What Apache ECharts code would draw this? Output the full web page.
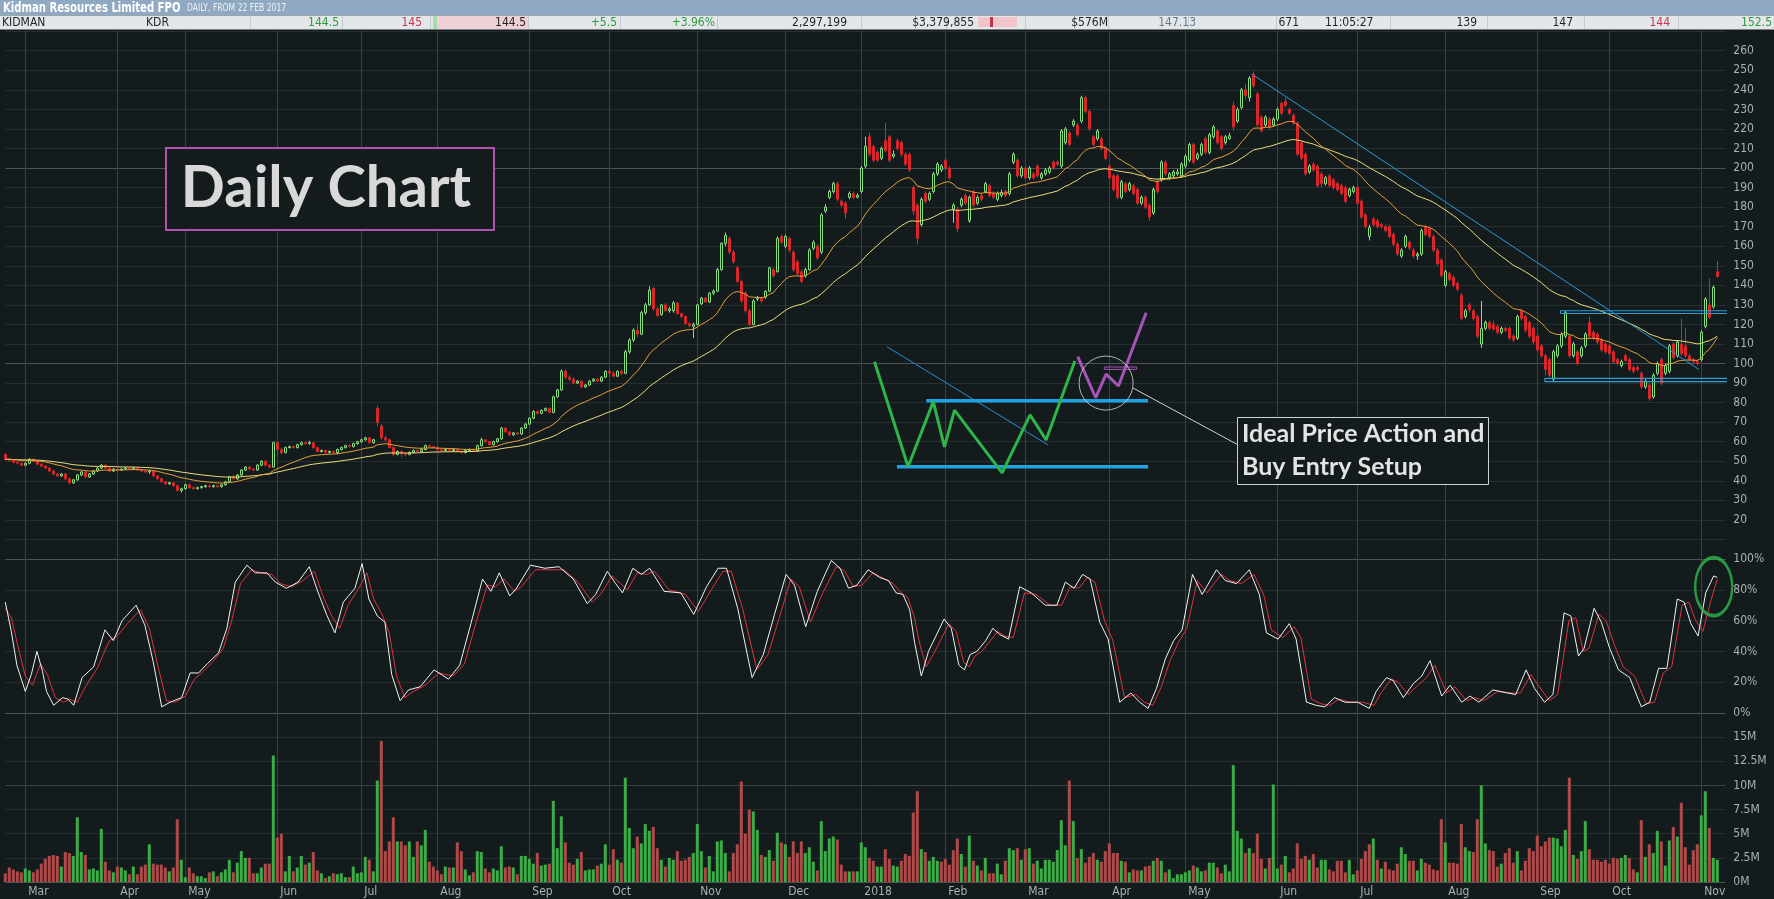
<!DOCTYPE html>
<html><head><meta charset="utf-8">
<script src="https://cdn.jsdelivr.net/npm/echarts/dist/echarts.min.js"></script>
<style>html,body{margin:0;padding:0;background:#131b1d;overflow:hidden}#c{width:1774px;height:899px}</style>
</head><body><div id="c"></div>
<script>
// ---------- DATA ----------
const monthLabels = ['Mar','Apr','May','Jun','Jul','Aug','Sep','Oct','Nov','Dec','2018','Feb','Mar','Apr','May','Jun','Jul','Aug','Sep','Oct','Nov'];
const monthStarts = [5,28,45,68,89,108,131,151,173,195,214,235,255,276,295,318,338,360,383,401,424];
const totalSlots = 431;
// candles: [open, close, low, high]
const candles = [
[53.5,51,50.5,54],[51,50.5,50,51.5],[50.5,49.5,49,51],[49.5,49,48.5,50],[49,48,47.5,49.5],
[48,49,47.5,49.5],[49,51,48.5,51.5],[51,50,49.5,51.5],[50,48.5,48,50.5],[48.5,47.5,47,49],[47.5,46.5,46,48],[46.5,45,44.5,47],[45,43.5,43,45.5],[43.5,42.5,42,44],[42.5,43.5,42,44],[43.5,41,40.5,44],[41,39,38.5,41.5],[39,40.5,38.5,41],[40.5,43,40,43.5],[43,44.5,42.5,45],[44.5,42,41.5,45],[42,43.5,41.5,44],[43.5,45,43,45.5],[45,46.5,44.5,47],[46.5,48,46,48.5],[48,46.5,46,48.5],[46.5,45,44.5,47],[45,46,44.5,46.5],
[46,45.5,45,46.5],[45.5,46,45,46.5],[46,46.5,45.5,47],[46.5,46,45.5,47],[46,46.5,45.5,47],[46.5,45.5,45,47],[45.5,45,44.5,46],[45,44.5,44,45.5],[44.5,45,43.5,45.5],[45,42.5,42,45],[42.5,41,40.5,43],[41,39.5,39,41.5],[39.5,38.5,38,40],[38.5,39,38,39.5],[39,37.5,37,39.5],[37.5,35,34.5,38],[35,36,34,36.5],
[36,38,35.5,38.5],[38,36.5,36,38.5],[36.5,36,35.5,37],[36,36.5,35.5,37],[36.5,37,36,37.5],[37,37.5,36.5,38],[37.5,37,36.5,38],[37,37.5,36.5,38],[37.5,37,36.5,38],[37,38,36.5,38.5],[38,39.5,37.5,40],[39.5,42,39,42.5],[42,41,40.5,43],[41,43,40.5,43.5],[43,45.5,42.5,46],[45.5,47,45,47.5],[47,46,45.5,47.5],[46,45.5,45,46.5],[45.5,48,45,48.5],[48,50,47.5,50.5],[50,48,47.5,50.5],[48,47,46.5,48.5],[47,59.5,47,60],
[59.5,56,53,60],[56,54.5,53.5,57],[54.5,57,54,57.5],[57,57.5,56.5,58],[57.5,57,56.5,58],[57,58.5,56.5,59],[58.5,59.5,58,60],[59.5,59,58.5,60],[59,59.5,58.5,60.5],[59.5,57,56.5,60],[57,55,54.5,57.5],[55,55.5,54.5,56],[55.5,54.5,54,56],[54.5,55,54,55.5],[55,54.5,54,55.5],[54.5,56,53.5,56.5],[56,57,55.5,57.5],[57,58,56.5,58.5],[58,57.5,57,58.5],[57.5,59,57,59.5],[59,60,58.5,60.5],
[60,61,59.5,61.5],[61,62,60.5,62.5],[62,59.5,59,62.5],[59.5,61,59,61.5],[77,70,68,78.5],[68,62,61,69],[62,61,60,63],[61,57,56.5,61.5],[57,53.5,52.5,57.5],[53.5,55,53,55.5],[55,54,52,55.5],[54,53.5,52.5,54.5],[53.5,54.5,53,55],[54.5,55.5,54,56],[55.5,55,54.5,56],[55,56,54.5,56.5],[56,58,55.5,58.5],[58,57.5,57,58.5],[57.5,57,56.5,58],
[57,56,55.5,57.5],[56,55.5,55,56.5],[55.5,56,55,56.5],[56,55.5,55,56.5],[55.5,56,55,56.5],[56,55,54.5,56.5],[55,54.5,54,55.5],[54.5,55.5,54,56],[55.5,56,55,56.5],[56,55.5,55,56.5],[55.5,58,55,58.5],[58,61,57.5,62],[61,60,59.5,61.5],[60,58.5,58,60.5],[58.5,60,58,60.5],[60,61.5,59.5,62],[61.5,67,61,67.5],[67,65,64.5,67.5],[65,63.5,63,65.5],[63.5,64.5,63,65],[64.5,64,63.5,65],[64,67,63.5,67.5],[67,69,66.5,69.5],
[69,72,68.5,72.5],[72,75.5,71.5,76],[75.5,74.5,74,76],[74.5,76,74,76.5],[76,77,75.5,77.5],[77,75,74.5,77.5],[75,83,74.5,83.5],[83,86.5,82.5,87],[86.5,96,86,97],[96,93,92,97],[93,92,91,94],[92,90,89.5,93],[90,91,89.5,91.5],[91,88,87.5,91.5],[88,89,87.5,89.5],[89,91,88.5,91.5],[91,92,90.5,92.5],[92,91,90.5,92.5],[91,93,90.5,93.5],[93,96,92.5,96.5],
[96,95,93,97],[95,93.5,93,96],[93.5,96,93,96.5],[96,95,94,97],[95,106,94.5,107],[106,112,105,113],[112,117,111,118],[117,115,113.5,120],[115,126,114.5,127],[126,130,125,131],[130,137.5,129.5,139.5],[138.5,128,127,139],[128,124.5,124,129],[125,130,124.5,130.5],[130,127,126.5,131],[127,128,126,129],[127,131,126,132],[131,125.5,125,131.5],[125.5,124,123,126],[124,120.5,120,124.5],[120.5,119.5,118.5,121],[119,120,113,121],
[120,130,119.5,130.5],[130.5,133.5,130,134],[133.5,131.5,131,134],[131.5,136,131,136.5],[136,137,135,138],[137,148,136.5,149],[148,161.5,147.5,162],[161.5,165.5,160,167],[164,157,156,165],[157,152,151,158],[149,142,141,150],[142,132,131,143],[136,127,126,137],[127,120,119,128],[120,132,119.5,133],[133,133.5,132,134.5],[133.5,132,131,134],[134,137,133,137.5],[137,149,136.5,149.5],[148,145,144,149],[147,164,146.5,165],[165,162,161,166],
[160,165,159,166],[164,158,157,165],[157,148,147,158],[152,146,145,153],[147,142,141,148],[145,148,144,149],[148,158,147.5,159],[159,162,158,163],[160,154,153,161],[157,176,156,177],[178,180,177,181.5],[185,188,184,189],[188,192,187,193],[192,184,183,193],[183,181,180,184],[182,177,174,183],[185,187,184,188],[187,185,184,188],[185,186,184.5,187],
[188,200,187,201],[201,211,200,216],[216,207,206,218],[211,204,203,212],[208,204,203,209],[205,210,204,211],[214,209,208,223],[216,204,203,217],[206,207,205,209],[214,210,209,215],[213,207,206,214],[207,202,201,208],[207,199,198,208],[190,178,176,191],[181,164,161,182],[171,184,170,185],[187,183,182,188],[184,187,183,188],[188,197,187,198],[197,202,196,203],[199,201,198,202],
[204,200,199,205],[200,195,194,201],[179,181,172,182],[179,169,167,180],[181,184,180,185],[186,182,181,187],[173,185,172,186],[188,181,180,189],[182,185,181,186],[186,184,183,187],[188,192,187,193],[191,186,185,192],[187,185,184,188],[184,187,183,188],[186,187.5,185,189],[188,186,185,189],[187,197,186,198],[203,207,202,208],[204,196,195,205],[196,200,195,201],
[200,195,194,201],[195,200,194,201],[197,195,194,198],[201,196,195,202],[195,197,194,198],[197,199,196,200],[198,200,197,201],[203,200,199,204],[203,202,201,204],[201,219,200,220],[213,220,212,221],[218,212,211,219],[222,224,221,225],[222,217,216,223],[224,236,223,237],[236,229,228,237],[229,220,219,230],[216,212,211,217],[215,219,214,220],[215,210,209,216],[210,205,204,211],
[201,195,194,202],[196,189,188,197],[196,185,184,197],[185,193,184,194],[192,188,187,193],[189,192,188,193],[191,187,186,192],[189,182,181,190],[182,185,181,186],[185,180,179,186],[181,175,173,182],[177,189,176,190],[193,188,187,195],[194,203,193,204],[203,197,196,204],[195,197,194,198],[196,198,195,199],[197,198,196,199.5],[196,202,195,203],
[201,206,200,207],[204,212,203,213],[212,203,202,213],[205,207,204,208],[207,212,206,213],[215,208,207,216],[208,217,207,218],[216,221,215,222],[219,213,212,220],[216,210,209,217],[213,216,212,217],[215,216.5,214.5,218],[232,221,219,234],[224,230,223,231],[231,240,230,241],[240,237,235,243],[236,246,234,247],[248,242,241,249.5],[238,222,221,239],[226,219,218,227],[222,226,221,227],[225,221,220,226],[222,225,221,226],
[225,230,224,231],[233,228,227,234],[234,232,231,236],[230,228,227,231],[227,223,222,228],[223,207,206,224],[213,205,204,214],[207,197,196,208],[198,201,197,202],[202,199,198,203],[201,191,190,202],[197,192,190,198],[192,195,191,196],[196,191,190,197],[194,190,189,195],[192,189,188,193],[191,187,186,192],[190,183,182,191],[186,189,185,190],[188,190,187,191],
[190,182,181,191],[183,175,174,184],[176,170,169,177],[165,169.5,163,171],[174,171,170,175],[173,170,169,174],[171,170,169,172],[170,168,167,171],[170,165,164,171],[166,161,160,167],[161,156,155,162],[155,158,154,159],[160,165,159,166],[162,159,158,163],[158,155,154,159],[155,156,153,157],[156,168,155,169],[170,166,165,171],[169,165,164,170],[165,158,157,166],[158,151,150,159],[153,145,144,154],
[140,147,139,148],[146,143,142,147],[144,140,139,145],[141,138,137,142],[135,123,122,136],[124,127,123,128],[130,127.5,126,131],[127,123,122,128],[124,114,113,125],[110,118,108,132],[118,121,117,122],[121,118,117,122],[120,117.5,117,122],[119,116,115,120],[116,118,115,119],[118,117,116,119],[118,113,112,119],[114,112,111,115],[113,124,112,125],[127,123,122,128],[124,117,116,125],[121,114,113,122],[118,111,110,119],
[114,107,106,115],[109,104,103,110],[104,97,94,105],[102,94,93,103],[92,106,91,107],[104,109,103,110],[109,115,108,116],[114,126,113,127],[114,104,103,115],[104,110,103,111],[106,100,99,107],[104,108,103,109],[109,115,108,116],[121,114,113,124],[116,113,112,117],[115,111,110,116],[112,107,106,113],[110,106,105,111],
[109,105,104,110],[106,101,100,107],[102,100,99,103],[99,101,98,102],[104,101.5,101,105],[102,97,96,103],[98,96,95,99],[98,97,96,99],[95,88,87,96],[88,91,87,92],[89,82,81,90],[83,94,82,95],[95,100,94,101],[102,90,89,103],[95,99,94,100],[96,109,95,110],[110,103,102,111],[104,111,103,112],[110,105,104,123],[109,104,103,118],[104,102,101,105],[102,101,100,103],[101,100,99,102],
[102,116,101,117],[119,133,118,134],[130,123.5,123,143.5],[129,139,128,140],[147,144.5,144,152.5]
];
// daily volume, millions
const volumes = [
0.9,1.5,1.3,1.1,1.0,
1.4,1.2,1.0,1.3,1.9,2.4,2.7,2.8,2.7,1.6,3.1,3.0,2.7,6.7,3.1,2.8,1.3,1.4,1.2,5.5,2.1,1.2,1.0,
1.6,1.5,1.2,0.8,1.6,0.8,1.6,1.8,3.9,1.9,1.8,1.8,1.5,1.1,1.5,6.5,2.3,
0.5,1.5,0.9,0.6,0.6,0.4,1.0,1.1,0.6,1.0,1.3,2.3,1.0,2.0,3.2,2.5,2.5,0.9,0.9,1.5,1.9,1.9,13.1,
4.6,5.0,1.1,2.7,1.1,1.5,2.7,1.8,2.0,3.1,1.2,0.9,0.4,0.6,0.9,0.8,0.9,0.5,0.5,1.6,0.9,
1.0,2.6,2.3,1.1,10.5,14.6,3.2,4.2,6.7,4.2,4.2,3.8,4.2,2.6,4.2,3.8,5.4,2.1,1.6,
1.2,0.8,1.6,1.5,1.5,4.1,3.2,1.3,0.7,1.0,3.2,3.1,1.4,1.0,1.4,1.2,3.7,1.5,1.6,1.5,0.8,2.7,2.7,
2.4,1.9,3.0,1.7,1.8,1.9,8.4,3.5,6.8,4.1,2.0,1.8,2.4,3.1,1.2,1.3,1.3,1.7,1.9,3.9,
1.8,3.4,2.3,2.0,10.8,5.6,3.5,4.7,4.0,6.0,5.3,5.7,3.5,2.3,1.6,2.5,2.3,3.2,2.2,2.3,2.6,3.0,
6.0,3.2,1.5,2.7,1.1,4.2,4.3,3.0,1.1,3.0,3.9,10.4,5.0,7.5,7.3,5.4,2.8,2.6,3.3,2.2,5.1,4.1,
3.9,2.6,4.2,3.0,4.2,3.0,3.6,2.1,1.2,6.3,3.2,4.5,4.7,4.4,1.8,1.1,1.1,1.1,1.1,
4.1,3.6,2.5,2.2,1.6,1.6,3.4,2.4,1.7,1.6,2.2,2.9,2.7,7.2,9.4,3.4,3.1,2.2,2.6,2.2,2.1,
2.4,1.8,3.3,4.5,2.9,1.6,4.8,2.2,1.7,1.2,2.5,0.9,0.9,1.9,0.8,2.2,3.5,3.3,3.5,2.3,
3.4,3.5,1.9,2.2,1.4,2.3,2.3,2.1,3.3,6.4,3.8,10.5,6.3,2.5,3.4,2.0,2.6,3.0,2.3,2.1,3.2,
4.0,3.0,3.0,2.2,2.1,1.0,1.3,1.2,1.2,1.6,1.7,2.2,2.5,2.2,1.0,1.3,0.4,0.8,0.8,
1.0,1.2,1.7,1.5,1.1,1.2,2.0,2.0,1.5,0.9,1.8,1.1,12.1,5.3,4.5,3.0,3.5,3.0,5.0,2.4,1.4,2.5,10.1,
1.4,1.8,2.7,1.0,1.4,4.0,2.4,2.7,2.3,2.9,1.5,2.3,2.3,1.3,1.1,2.2,2.2,1.0,2.3,0.8,
1.2,2.4,3.2,3.9,4.5,2.3,1.4,2.1,1.3,1.2,1.9,3.6,2.9,2.2,2.2,1.2,2.4,2.0,1.8,1.3,1.2,6.5,
4.1,2.0,2.0,1.9,6.0,3.6,3.2,3.1,6.5,10.0,4.0,3.3,3.2,1.6,1.9,3.0,3.5,2.0,3.2,1.2,2.2,3.5,3.2,
4.8,3.7,4.2,4.6,4.6,4.5,3.7,5.4,10.8,2.8,2.4,3.2,6.3,3.4,2.3,2.3,2.1,2.3,
1.9,2.5,2.4,2.5,2.8,2.5,1.3,1.0,6.4,2.6,3.9,3.0,5.3,4.2,1.7,4.3,5.7,4.7,8.2,3.6,1.8,3.3,3.9,
6.9,9.4,5.6,2.5,2.3
];
// stochastic oscillator: [day index, %]
const stochK = [[0,72],[1.5,53],[2.9,31],[5,14],[6.5,25],[7.9,40],[9.3,27],[10.3,14],[12.1,5],[14.3,10],[15.7,9],[17.1,5],[19.2,23],[22.1,30],[24.9,54],[27,47],[29.2,60],[32.7,70],[34.9,57],[37,33],[39.1,4],[41.2,7],[44.1,10],[46.2,26],[48.3,26],[50.5,32],[53.3,39],[55.4,55],[57.5,85],[60.4,96],[62.5,91],[65.4,91],[67.5,85],[70.3,81],[73.2,85],[76,95],[78.1,79],[80.3,64],[82.4,52],[84.5,72],[87.4,81],[89.2,97],[90.9,74],[93,63],[94.9,59],[96.6,25],[98.7,8],[100.8,15],[103.7,17],[107.2,28],[110.8,22],[113.6,31],[116.4,58],[119.3,87],[121.4,79],[123.5,91],[126.1,76],[127.8,81],[131.3,96],[134.9,94],[138.4,95],[142,87],[145.5,71],[147.6,77],[150.5,92],[152.6,84],[154.3,78],[156.9,94],[159,90],[161.1,94],[164.7,79],[168.9,78],[172.1,64],[175.3,82],[178.2,94],[180.3,94],[183.1,68],[186.7,23],[189.5,38],[192.3,64],[195.2,90],[197.3,83],[200.1,56],[203,79],[206.5,99],[208.7,94],[210.8,81],[212.9,83],[215.7,93],[218.6,88],[220.8,86],[222.7,78],[224.4,77],[226.1,67],[227.3,46],[229,24],[230.8,40],[234.7,61],[236.5,55],[238.4,31],[239.8,28],[241.2,38],[242.9,40],[245.1,47],[246.9,55],[248.6,51],[250.8,48],[253.6,82],[256.5,78],[260,70],[262.9,70],[265,85],[267.2,81],[269.3,90],[271.2,87],[273.6,59],[275.7,48],[278.6,7],[281.4,13],[283.6,7],[285.7,3],[287.8,16],[290,35],[292.1,47],[294.2,54],[296.8,90],[299.2,77],[302.8,93],[305,86],[307.8,84],[311,93],[313.5,77],[315.3,52],[318.2,48],[321,58],[322.7,48],[325.3,7],[327.7,5],[329.9,4],[332.3,10],[334.9,7],[338.1,7],[341,3],[342.7,14],[345.3,23],[347,21],[349.5,10],[352,19],[354.1,24],[356.2,34],[359.1,11],[361.2,18],[364.1,7],[366.2,11],[368.4,7],[371.9,15],[375.5,13],[377.6,12],[380.2,28],[382.3,16],[384.8,7],[386.9,12],[389.7,65],[391.4,63],[393.3,37],[394.7,42],[397.2,68],[399,59],[401.1,42],[403.3,28],[406.1,23],[409,4],[411.1,7],[413.3,29],[415.4,29],[418,74],[419.7,72],[421.4,58],[423.2,50],[425.1,78],[427.1,89],[428,88]];
const stochD = [[0,68],[1.5,62],[3,45],[5,24],[6.8,18],[8.8,32],[10.5,25],[12.5,10],[14.5,7],[16,9],[18,7],[20,17],[23,29],[26,47],[28,50],[30.5,58],[33.8,67],[36,55],[38.2,30],[40.3,8],[42.5,7],[45,11],[47.3,22],[49.5,27],[51.8,33],[54.5,42],[56.6,60],[58.8,84],[61.6,93],[63.8,91],[66.6,90],[68.8,84],[71.5,82],[74.4,86],[77.3,92],[79.4,76],[81.6,63],[83.6,55],[85.7,70],[88.6,82],[90.4,91],[92.1,74],[94.2,64],[96,52],[97.8,24],[99.9,10],[102,14],[105,18],[108.4,26],[112,24],[114.8,32],[117.6,58],[120.5,83],[122.6,82],[124.7,87],[127.3,79],[129,82],[132.5,93],[136,93],[139.6,93],[143.2,85],[146.7,72],[148.8,77],[151.7,89],[153.8,84],[155.5,80],[158,91],[160.2,90],[162.3,92],[165.9,80],[170,77],[173.3,66],[176.5,80],[179.4,92],[181.5,92],[184.3,68],[187.9,28],[190.7,38],[193.5,62],[196.4,87],[198.5,82],[201.3,59],[204.2,77],[207.7,95],[209.9,92],[212,82],[214.1,83],[216.9,91],[219.8,87],[222,84],[224,78],[225.6,75],[227.3,62],[228.5,46],[230.2,30],[232,38],[235.9,58],[237.7,53],[239.6,33],[241,30],[242.4,37],[244.1,40],[246.3,47],[248.1,53],[249.8,50],[252,49],[254.8,78],[257.7,77],[261.2,70],[264.1,70],[266.2,82],[268.4,81],[270.5,88],[272.4,85],[274.8,60],[276.9,47],[279.8,10],[282.6,12],[284.8,7],[286.9,5],[289,17],[291.2,34],[293.3,46],[295.4,55],[298,86],[300.4,78],[304,90],[306.2,86],[309,84],[312.2,90],[314.7,76],[316.5,54],[319.4,49],[322.2,56],[323.9,49],[326.5,9],[328.9,6],[331.1,5],[333.5,9],[336.1,7],[339.3,7],[342.2,5],[343.9,13],[346.5,22],[348.2,20],[350.7,12],[353.2,18],[355.3,23],[357.4,31],[360.3,13],[362.4,17],[365.3,8],[367.4,10],[369.6,8],[373.1,14],[376.7,13],[378.8,13],[381.4,25],[383.5,17],[386,8],[388.1,12],[390.9,60],[392.6,62],[394.5,40],[395.9,42],[398.4,64],[400.2,60],[402.3,44],[404.5,30],[407.3,24],[410.2,6],[412.3,7],[414.5,26],[416.6,30],[419.2,70],[420.9,72],[422.6,60],[424.4,53],[426.3,72],[428,87]];
// hand-drawn annotations, in (day index, price) units
const mainTrend = [[311.6,248.1],[423.4,97]];
const setupTrend = [[220.4,108.6],[260.75,58.3]];
const greenZig = [[217.3,100.9],[225.7,47.2],[232,80.5],[234.8,57.4],[237.3,76.2],[249.2,44.1],[256.2,73.7],[260.2,60.9],[267.4,101.3]];
const purpleZig = [[268.1,103.5],[272.6,82.5],[275.2,94.6],[278.3,88.5],[285.2,126]];
const setupUpper = [[230.25,81],[285.7,81]];
const setupLower = [[222.9,47.2],[285.7,47.2]];
const purpleBar = [[274.75,97],[282.85,97],[282.85,98.2],[274.75,98.2],[274.75,97]];
const rangeTop = [[388.8,125.6],[431.9,125.6],[431.9,127],[388.8,127],[388.8,125.6]];
const rangeBottom = [[384.9,90.7],[431.8,90.7],[431.8,92.4],[384.9,92.4],[384.9,90.7]];
const focusCircle = [275.2,90.0];
const connector = [[281.9,87.5],[307.9,58.7]];
const stochMark = [427.1,82];

// ---------- DERIVED ----------
const closes = candles.map(d=>d[1]);
function ema(p){const k=2/(p+1);let e=closes[0];return closes.map((c,i)=>{if(i>0)e=c*k+e*(1-k);return +e.toFixed(2);});}
const emaFast = ema(21), emaSlow = ema(50);
const volUp = closes.map((c,i)=> i===0 ? c>=candles[0][0] : c>=closes[i-1]);
const cats = Array.from({length: totalSlots}, (_,i)=>'d'+i);
const startSet = new Set(monthStarts);
const labelAt = {}; monthStarts.forEach((s,k)=>labelAt[s]=monthLabels[k]);

const BG='#131b1d', DIM='#252e30', MID='#394345', BRIGHT='#4b5558';
const FN='"Liberation Sans Narrow","DejaVu Sans Condensed","Liberation Sans",sans-serif';
const LBL={color:'#a9b1b3',fontSize:12,fontFamily:FN};
const L=5.3, R=48.7;
function catAxis(g, showLabels){
  return {type:'category',gridIndex:g,data:cats,boundaryGap:false,
    axisLine:{show:false},axisTick:{show:false},
    axisLabel: showLabels ? Object.assign({show:true,interval:(i)=>startSet.has(i),formatter:(v,i)=>labelAt[i]||'',align:'left',padding:[0,0,0,3],margin:4},LBL) : {show:false},
    splitLine:{show:true,interval:(i)=>startSet.has(i),lineStyle:{color:MID,width:1}}};
}
function valX(g){return {type:'value',gridIndex:g,min:0,max:totalSlots-1,show:false};}
const annot = (data,color,width)=>({type:'line',xAxisIndex:1,yAxisIndex:0,data,symbol:'none',silent:true,clip:false,z:6,
  lineStyle:{color,width},animation:false});

const option = {
  backgroundColor: BG,
  animation:false,
  grid:[
    {left:L,right:R,top:31.2,height:527.8,outerBoundsMode:'none',containLabel:false},
    {left:L,right:R,top:559,height:154,outerBoundsMode:'none',containLabel:false},
    {left:L,right:R,top:713,height:169,outerBoundsMode:'none',containLabel:false}
  ],
  xAxis:[catAxis(0,false),valX(0),catAxis(1,false),valX(1),catAxis(2,true)],
  yAxis:[
    {type:'value',gridIndex:0,position:'right',min:0,max:270,interval:10,axisLine:{show:false},axisTick:{show:false},
     axisLabel:Object.assign({margin:8,formatter:v=>(v>=20&&v<=260)?String(v):''},LBL),
     splitLine:{show:true,lineStyle:{color:[BRIGHT,DIM,DIM,DIM,DIM,DIM,DIM,DIM,DIM,DIM],width:1}}},
    {type:'value',gridIndex:1,position:'right',min:0,max:100,interval:20,axisLine:{show:false},axisTick:{show:false},
     axisLabel:Object.assign({margin:8,formatter:v=>v+'%'},LBL),
     splitLine:{show:true,lineStyle:{color:[BRIGHT,DIM,DIM,DIM,DIM,BRIGHT],width:1}}},
    {type:'value',gridIndex:2,position:'right',min:0,max:17.5,interval:2.5,axisLine:{show:false},axisTick:{show:false},
     axisLabel:Object.assign({margin:8,formatter:v=>v<=15?v+'M':''},LBL),
     splitLine:{show:true,lineStyle:{color:[BRIGHT,DIM,DIM,DIM,MID,DIM,DIM,BRIGHT],width:1}}}
  ],
  series:[
    {type:'candlestick',xAxisIndex:0,yAxisIndex:0,data:candles.map(d=>[d[0],d[1],d[2],d[3]]),barWidth:3,clip:false,z:3,
     itemStyle:{color:BG,color0:'#d8262b',borderColor:'#86e07f',borderColor0:'#d8262b',borderWidth:1}},
    {type:'line',xAxisIndex:0,yAxisIndex:0,data:emaSlow,symbol:'none',lineStyle:{color:'#efe07c',width:1},z:4,silent:true},
    {type:'line',xAxisIndex:0,yAxisIndex:0,data:emaFast,symbol:'none',lineStyle:{color:'#e3a23b',width:1},z:4,silent:true},
    annot(mainTrend,'#2a9ad6',1),
    annot(setupTrend,'#2a8fd3',1),
    annot(setupUpper,'#1ea2e2',3.5),
    annot(setupLower,'#1ea2e2',3.5),
    annot(greenZig,'#2db54a',3),
    annot(purpleZig,'#a653b8',3),
    annot(purpleBar,'#a653b8',1),
    annot(rangeTop,'#2a9fdc',1.2),
    annot(rangeBottom,'#2a9fdc',1.2),
    annot(connector,'#cfd2d3',1),
    {type:'scatter',xAxisIndex:1,yAxisIndex:0,data:[focusCircle],symbol:'circle',symbolSize:54,silent:true,z:6,clip:false,
     itemStyle:{color:'rgba(0,0,0,0)',borderColor:'#d6d8d8',borderWidth:1}},
    {type:'line',xAxisIndex:3,yAxisIndex:1,data:stochD,symbol:'none',lineStyle:{color:'#e0323c',width:1},z:3,silent:true,clip:false},
    {type:'line',xAxisIndex:3,yAxisIndex:1,data:stochK,symbol:'none',lineStyle:{color:'#f2f2f2',width:1},z:4,silent:true,clip:false},
    {type:'scatter',xAxisIndex:3,yAxisIndex:1,data:[stochMark],symbol:'circle',symbolSize:[37,58],silent:true,z:6,clip:false,
     itemStyle:{color:'rgba(0,0,0,0)',borderColor:'#2fb84c',borderWidth:3}},
    {type:'bar',xAxisIndex:4,yAxisIndex:2,data:volumes,barWidth:3,clip:false,silent:true,
     itemStyle:{color:p=>volUp[p.dataIndex]?'#3dab47':'#b04a4a'}}
  ],
  graphic:[]
};

// header + annotation boxes
const G = option.graphic;
function txt(x,y,text,fill,font,align,sx){G.push({type:'text',x,y,scaleX:sx||1,silent:true,z:100,style:{text,fill,font,textAlign:align||'left',align:align||'left',textVerticalAlign:'middle',verticalAlign:'middle'}});}
function rect(x,y,w,h,style){G.push({type:'rect',silent:true,z:90,shape:{x,y,width:w,height:h},style});}
function vline(x,y1,y2,c){G.push({type:'line',silent:true,z:95,shape:{x1:x,y1,x2:x,y2},style:{stroke:c,lineWidth:1}});}
rect(0,0,1774,15.5,{fill:'#8ea9c1'});
txt(3,8,'Kidman Resources Limited FPO','#ffffff','bold 14px '+FN,'left',0.8);
txt(187,8.5,'DAILY, FROM 22 FEB 2017','#eef3f8','10px '+FN,'left',0.85);
rect(0,15.5,1774,14,{fill:'#e4e7ea'});
rect(433,16,4,13,{fill:'#a8dca8'});
rect(437,16,91,13,{fill:'#efd0d4'});
rect(978,17,39,10,{fill:'#f0c4c8'});
rect(990,17,3,10,{fill:'#c23445'});
[250,342,430,528,620,717,861,946,1025,1108,1188,1276,1390,1487,1584,1678].forEach(x=>vline(x+0.5,16,29,'#c6cbd0'));
const DK='#1e2326', GR='#2f9a3f', RD='#c8354d';
txt(2,22.5,'KIDMAN',DK,'12px '+FN);
txt(146,22.5,'KDR',DK,'12px '+FN);
txt(339,22.5,'144.5',GR,'12px '+FN,'right');
txt(422,22.5,'145',RD,'12px '+FN,'right');
txt(526,22.5,'144.5',DK,'12px '+FN,'right');
txt(617,22.5,'+5.5',GR,'12px '+FN,'right');
txt(715,22.5,'+3.96%',GR,'12px '+FN,'right');
txt(847,22.5,'2,297,199',DK,'12px '+FN,'right');
txt(974,22.5,'$3,379,855',DK,'12px '+FN,'right');
txt(1108,22.5,'$576M',DK,'12px '+FN,'right');
txt(1196,22.5,'147.13','#62788e','12px '+FN,'right');
txt(1299,22.5,'671',DK,'12px '+FN,'right');
txt(1325,22.5,'11:05:27',DK,'12px '+FN);
txt(1477,22.5,'139',DK,'12px '+FN,'right');
txt(1573,22.5,'147',DK,'12px '+FN,'right');
txt(1670,22.5,'144',RD,'12px '+FN,'right');
txt(1772,22.5,'152.5',GR,'12px '+FN,'right');
// "Daily Chart" label box
rect(166,148,328,82,{fill:BG,stroke:'#b052b0',lineWidth:2});
txt(326,188,'Daily Chart','#d9d9d9','bold 58px Lato, "Open Sans", sans-serif','center');
// setup caption box
rect(1237.5,417.5,251,67,{fill:BG,stroke:'#cfd3d4',lineWidth:1});
txt(1242,434,'Ideal Price Action and','#e2e4e4','bold 25px Lato, "Open Sans", sans-serif');
txt(1242,467,'Buy Entry Setup','#e2e4e4','bold 25px Lato, "Open Sans", sans-serif');

const chart = echarts.init(document.getElementById('c'),null,{renderer:'canvas',width:1774,height:899});
chart.setOption(option);
</script></body></html>
